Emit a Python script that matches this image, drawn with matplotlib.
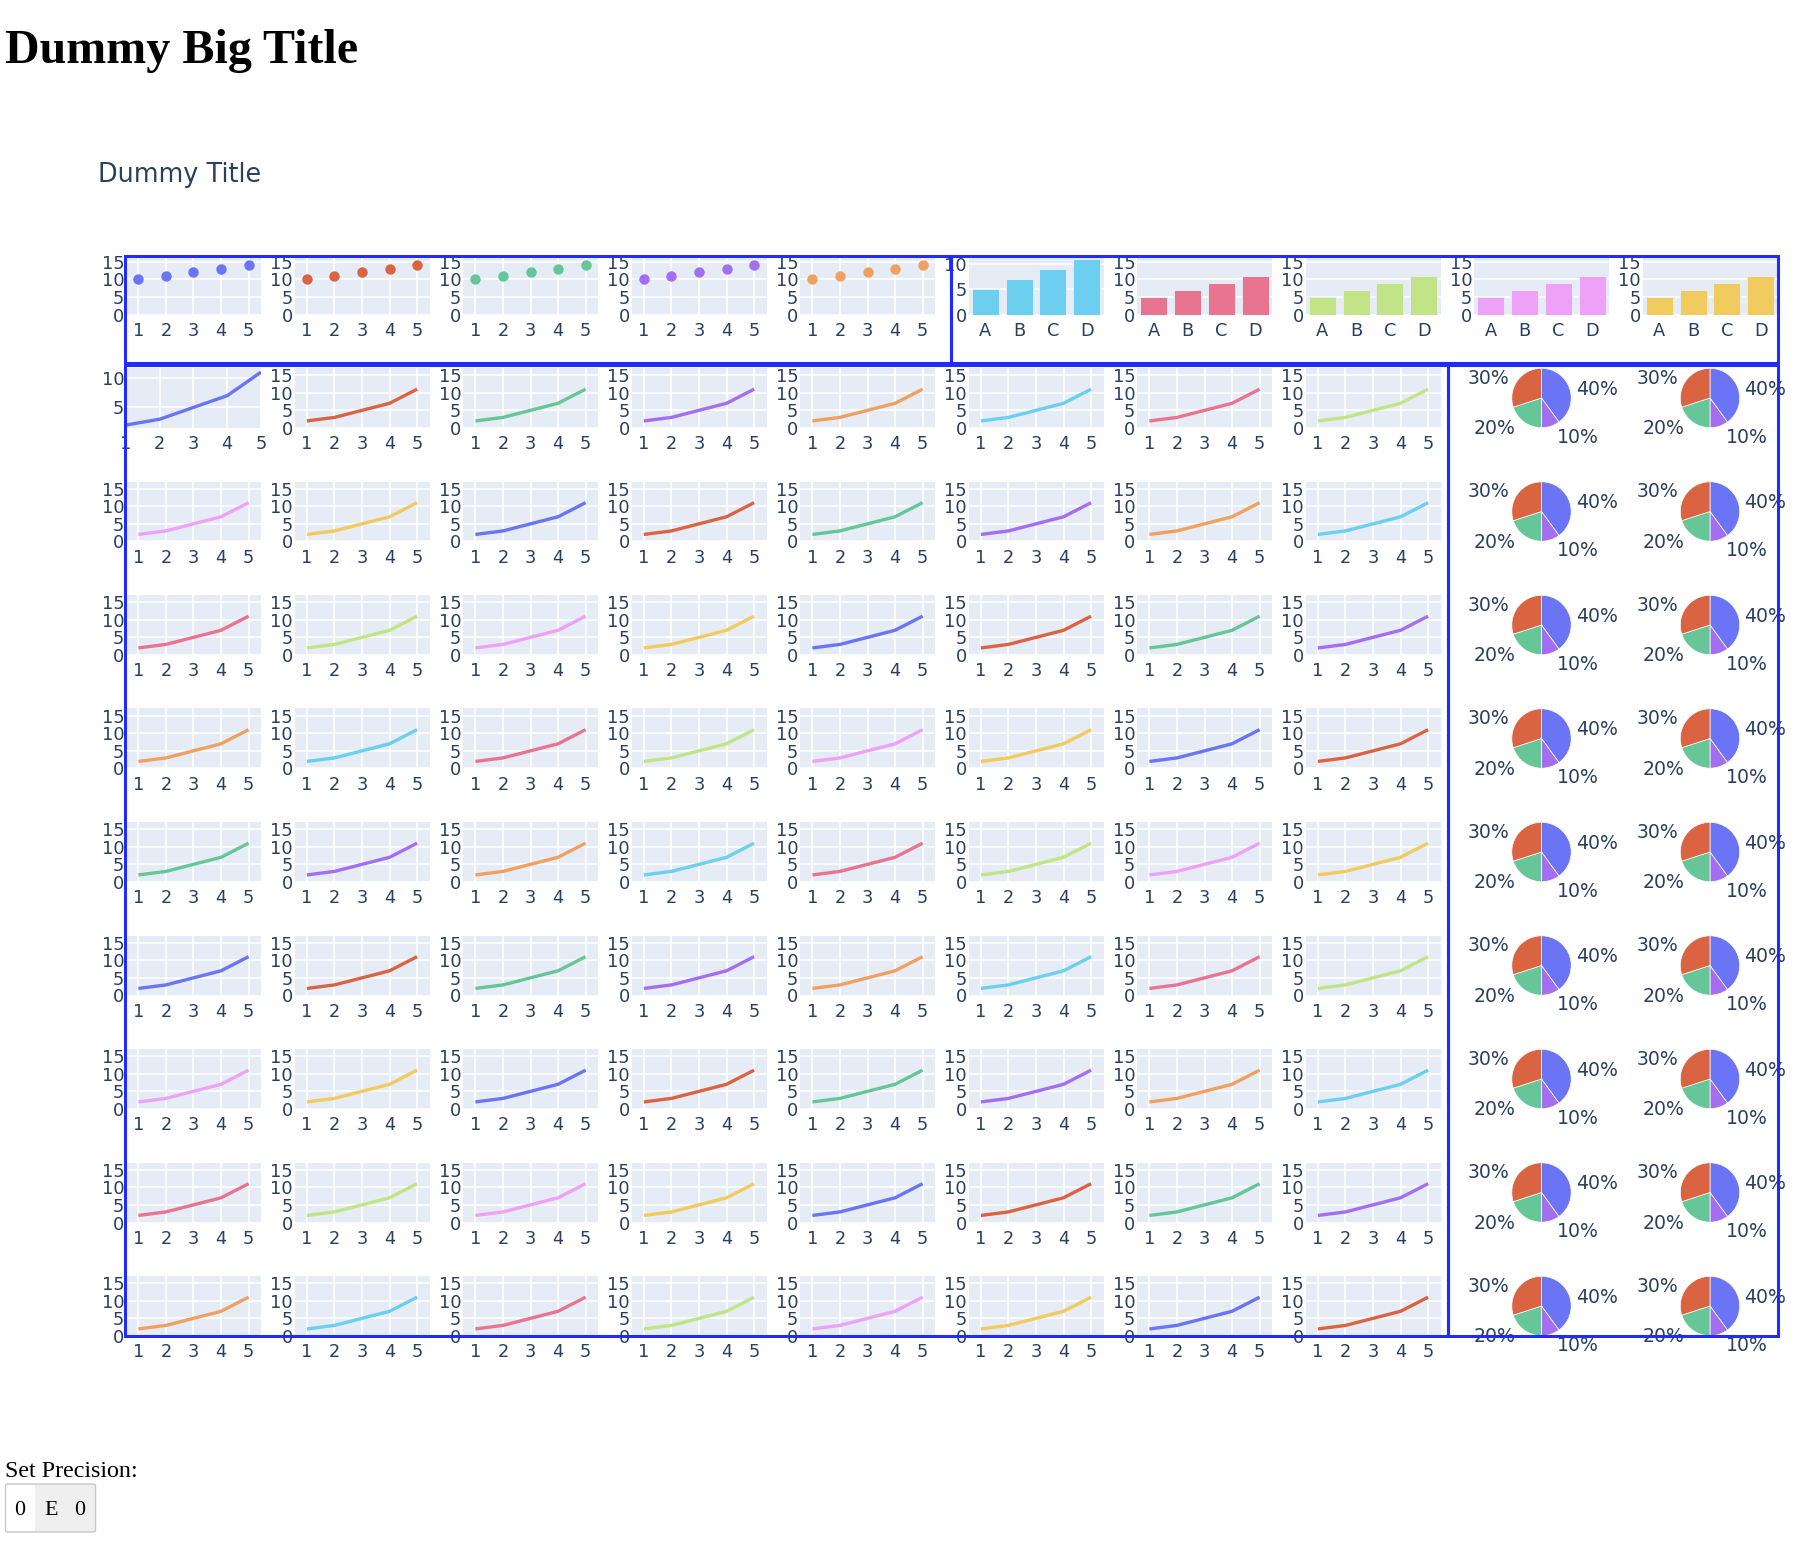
import math
import matplotlib
matplotlib.use('Agg')
import matplotlib.pyplot as plt
from matplotlib.patches import Rectangle, FancyBboxPatch

W, H, DPI = 1804, 1548, 100

# ---------------- data ----------------
palette = ['#6A74F5', '#DA6442', '#66C697', '#A36FF0', '#F0A160',
           '#6CCFEF', '#E87490', '#C3E486', '#EEA2F7', '#F2CB5E']
scatter_x = [1, 2, 3, 4, 5]
scatter_y = [10, 11, 12, 13, 14]
line_x = [1, 2, 3, 4, 5]
line_y = [2, 3, 5, 7, 11]
bar_cats = ['A', 'B', 'C', 'D']
bar_vals = [5, 7, 9, 11]
pie_vals = [40, 10, 20, 30]
pie_color_idx = [0, 3, 2, 1]
xticks = [1, 2, 3, 4, 5]
yticks = [0, 5, 10, 15]
n_scatter, n_bar = 5, 5
n_line_rows, n_line_cols, n_pie_cols = 9, 8, 2

big_title = "Dummy Big Title"
sub_title = "Dummy Title"
precision_label = "Set Precision:"
precision_cells = ["0", "E", "0"]

TXT = '#2a3f5f'
BG = '#E5ECF6'
BLUE = '#1f2bff'
TICK_FS = 12.8

fig = plt.figure(figsize=(W / DPI, H / DPI), dpi=DPI)
fig.patch.set_facecolor('white')

# grid geometry (pixels)
COL0, COLSTEP, CW = 126, 168.5, 135
ROW0, ROWSTEP, RH = 254.5, 113.5, 60


def cell(r, c):
    left = COL0 + COLSTEP * c
    top = ROW0 + ROWSTEP * r
    return [left / W, 1 - (top + RH) / H, CW / W, RH / H]


def style(ax, xgrid=True):
    ax.set_facecolor(BG)
    for s in ax.spines.values():
        s.set_visible(False)
    ax.tick_params(axis='both', length=0, labelsize=TICK_FS, labelcolor=TXT)
    ax.tick_params(axis='x', pad=5.2)
    ax.tick_params(axis='y', pad=1.2)
    ax.grid(True, axis='y', color='white', linewidth=1.2)
    if xgrid:
        ax.grid(True, axis='x', color='white', linewidth=1.2)
    ax.set_axisbelow(True)


# top row: scatter
for i in range(n_scatter):
    ax = fig.add_axes(cell(0, i))
    style(ax)
    ax.plot(scatter_x, scatter_y, 'o', ms=7.5, color=palette[i % 10], mec='none')
    ax.set_xlim(0.55, 5.45)
    ax.set_ylim(0, 17)
    ax.set_xticks(xticks)
    ax.set_yticks(yticks)

# top row: bars
for j in range(n_bar):
    ax = fig.add_axes(cell(0, n_scatter + j))
    style(ax, xgrid=False)
    pos = list(range(len(bar_cats)))
    ax.bar(pos, bar_vals, width=0.8, color=palette[(n_scatter + j) % 10],
           edgecolor=BG, linewidth=0.7)
    ax.set_xlim(-0.5, len(bar_cats) - 0.5)
    ax.set_xticks(pos)
    ax.set_xticklabels(bar_cats)
    if j == 0:
        ax.set_ylim(0, 11.8)
        ax.set_yticks([0, 5, 10])
    else:
        ax.set_ylim(0, 17)
        ax.set_yticks(yticks)

# line grid
k = 0
for r in range(n_line_rows):
    for c in range(n_line_cols):
        ax = fig.add_axes(cell(r + 1, c))
        style(ax)
        ax.plot(line_x, line_y, lw=2.4, color=palette[k % 10],
                solid_capstyle='butt', solid_joinstyle='round')
        ax.set_xticks(xticks)
        if k == 0:
            ax.set_xlim(1, 5)
            ax.set_ylim(1.5, 11.7)
            ax.set_yticks([5, 10])
        else:
            ax.set_xlim(0.55, 5.45)
            ax.set_ylim(0, 17)
            ax.set_yticks(yticks)
        k += 1

# pies
R = 29.7  # radius in px
total = sum(pie_vals)
labels = [f"{v / total * 100:.0f}%" for v in pie_vals]
for r in range(n_line_rows):
    for c in range(n_pie_cols):
        ax = fig.add_axes(cell(r + 1, n_line_cols + c))
        wedges, _ = ax.pie(pie_vals, colors=[palette[i] for i in pie_color_idx],
                           startangle=90, counterclock=False,
                           wedgeprops=dict(edgecolor='white', linewidth=0.5))
        ax.set_aspect('auto')
        ax.set_xlim(-CW / 2 / R, CW / 2 / R)
        ax.set_ylim(-RH / 2 / R, RH / 2 / R)
        ax.axis('off')
        # outside labels placed along each wedge's mid angle
        for w, lab in zip(wedges, labels):
            th = math.radians((w.theta1 + w.theta2) / 2)
            cx, sy = math.cos(th), math.sin(th)
            dx = 57 - 22 * abs(cx)
            dy = 22 + 20 * abs(sy)
            ax.text(dx * cx / R, dy * sy / R, lab,
                    ha='left' if cx > 0 else 'right', va='center',
                    fontsize=13.6, color=TXT)

# overlay for frames / widgets
ov = fig.add_axes([0, 0, 1, 1], zorder=20)
ov.set_xlim(0, W)
ov.set_ylim(H, 0)
ov.axis('off')
ov.patch.set_alpha(0)

frames = [(124.7, 255.7, 951, 362.5),
          (951, 255.7, 1777.7, 362.5),
          (124.7, 364.8, 1447.7, 1336),
          (1447.7, 364.8, 1777.7, 1336)]
for x0, y0, x1, y1 in frames:
    ov.add_patch(Rectangle((x0, y0), x1 - x0, y1 - y0, fill=False,
                           edgecolor=BLUE, linewidth=2.2))

# precision widget
ov.add_patch(Rectangle((35, 1484), 60.5, 48, facecolor='#efefef', edgecolor='none'))
ov.add_patch(FancyBboxPatch((5.5, 1484), 90, 48, boxstyle='round,pad=0,rounding_size=2',
                            fill=False, edgecolor='#c8c8c8', linewidth=1.0))
for cx, ch in zip([20, 50.7, 80], precision_cells):
    ov.text(cx, 1515, ch, ha='center', va='baseline', fontsize=15.8,
            family='Liberation Serif', color='black')

# texts
fig.text(5 / W, 1 - 63.3 / H, big_title, fontsize=34.6, fontweight='bold',
         family='Liberation Serif', ha='left', va='baseline', color='black')
fig.text(98 / W, 1 - 181.7 / H, sub_title, fontsize=18.4, color=TXT,
         ha='left', va='baseline')
fig.text(5 / W, 1 - 1476.7 / H, precision_label, fontsize=17.3,
         family='Liberation Serif', ha='left', va='baseline', color='black')

fig.savefig('out.png', dpi=DPI, facecolor='white')
